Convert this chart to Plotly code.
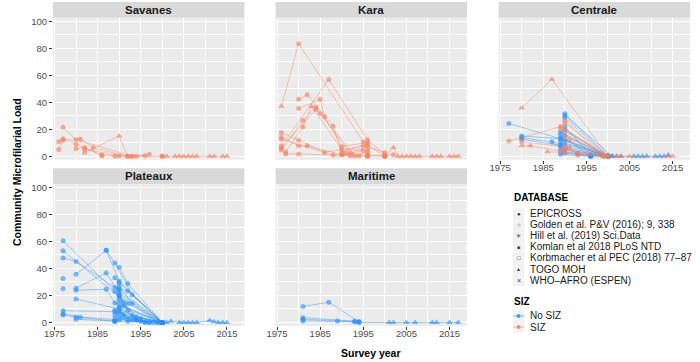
import plotly.graph_objects as go

W, H = 700, 362

# ---------------- data ----------------
REGIONS = ["Savanes", "Kara", "Centrale", "Plateaux", "Maritime"]
YEAR_TICKS = [1975, 1985, 1995, 2005, 2015]
LOAD_TICKS = [0, 20, 40, 60, 80, 100]
DB_LABELS = ["EPICROSS", "Golden et al. P&V (2016); 9, 338", "Hill et al. (2019) Sci.Data",
             "Komlan et al 2018 PLoS NTD", "Korbmacher et al PEC (2018) 77\u201387",
             "TOGO MOH", "WHO\u2013AFRO (ESPEN)"]
DB_CODES = ["E", "G", "H", "K", "B", "T", "W"]
SIZ_LABELS = ["No SIZ", "SIZ"]

# each series: (SIZ flag, years, community microfilarial load, database code per point)
SAVANES = [
    ("S", [1977, 1980, 1993, 2000], [21.5, 12.4, 0, 0], "EEEE"),
    ("S", [1976, 1977, 1980, 1986], [10.8, 13, 9, 1], "EEEE"),
    ("S", [1976, 1977, 1981, 1984, 1992], [5.1, 12, 12.7, 6.4, 0], "EEEEE"),
    ("S", [1980, 1982, 1986, 1989, 1994], [5.6, 6.6, 0.5, 0.3, 0], "EEEEE"),
    ("S", [1982, 1990, 1992, 1997], [2.9, 15, 0, 1.5], "ETEE"),
    ("S", [1982, 1990, 1993, 1996], [5.4, 0.3, 0, 0.5], "EEEE"),
    ("S", [2000, 2001, 2003, 2004, 2005, 2006, 2007, 2008, 2011, 2012, 2014, 2015],
     [0, 0, 0, 0, 0, 0, 0, 0, 0, 0, 0, 0], "ETTTTTTTTTTT"),
]
KARA = [
    ("S", [1976, 1980, 1995, 2000], [37, 83.4, 10.8, 0], "TEEE"),
    ("S", [1976, 1987, 1996, 2000], [7.8, 56.8, 12.2, 1.2], "EEEE"),
    ("S", [1980, 1982, 1988, 1990, 1996], [42.2, 45.6, 22.5, 2.9, 9], "EEEEE"),
    ("S", [1980, 1985, 1986, 1990, 1996], [35.4, 42.2, 29.3, 7.3, 10.2], "EEEEE"),
    ("S", [1976, 1981, 1984, 1992, 1996], [4.7, 26.8, 36.3, 2.3, 7.3], "EEEEE"),
    ("S", [1977, 1981, 1983, 1990, 1996], [3.4, 21.7, 36.9, 5.1, 4.7], "EETEE"),
    ("S", [1976, 1984, 1985, 1993, 1996], [6.1, 34.7, 31.7, 0.5, 2.9], "EEEEE"),
    ("S", [1976, 1980, 1986, 1995, 2000], [17.6, 12, 2.9, 7.8, 2.9], "EEEEE"),
    ("S", [1976, 1980, 1982, 1990, 1995], [14.4, 7.8, 7.8, 1.2, 4.2], "EEEEE"),
    ("S", [1976, 1988, 1996, 2002], [12.6, 1, 0, 1.2], "EEEE"),
    ("S", [1977, 1980, 1992, 1994, 1996], [1.8, 1.8, 0.5, 0.5, 0], "EEEEE"),
    ("S", [1990, 1991, 1996, 2000], [1.2, 2.3, 1, 0], "EEEE"),
    ("S", [2000, 2002, 2003, 2004, 2005, 2006, 2007, 2008, 2011, 2012, 2013, 2015, 2016, 2017],
     [0, 6.6, 0, 0, 0, 0, 0, 0, 0, 0, 0, 0, 0, 0], "ETTTTTTTTTTTTT"),
]
CENTRALE = [
    ("N", [1977, 1990, 2000], [24.4, 12, 0], "EEE"),
    ("N", [1980, 1989, 1999], [15.1, 13, 0], "EEE"),
    ("N", [1980, 1990, 2000], [13.9, 9, 0.5], "EEE"),
    ("N", [1980, 1989, 2000], [12.7, 8, 0], "EEE"),
    ("N", [1987, 1990, 2000], [10.8, 5, 0], "EEE"),
    ("N", [1990, 2000], [31.5, 0], "EE"),
    ("N", [1990, 2001], [30.3, 0], "ET"),
    ("N", [1990, 2000], [28.5, 0], "EE"),
    ("N", [1990, 1996, 2000], [22, 1, 0], "EEE"),
    ("N", [1989, 2000], [18, 0], "EE"),
    ("N", [1989, 1996, 2000], [16, 0, 0], "EEE"),
    ("N", [1989, 2000], [13.5, 0], "EE"),
    ("N", [1989, 2000], [11, 0], "EE"),
    ("N", [1989, 1993, 2000], [8.5, 2, 0], "EEE"),
    ("N", [1989, 2000], [6, 0], "EE"),
    ("N", [1989, 1996], [3.5, 0], "EE"),
    ("N", [1989, 1996], [1.5, 0], "EE"),
    ("N", [1990, 2000], [19, 0], "EE"),
    ("N", [1990, 2000], [15.5, 0], "EE"),
    ("N", [1990, 2000], [2.5, 0], "EE"),
    ("S", [1977, 1989, 2000], [11.3, 22, 0], "EEE"),
    ("S", [1980, 1987, 2000], [35.8, 57, 0], "TTT"),
    ("S", [1980, 1990, 2000], [10.8, 7, 0], "EEE"),
    ("S", [1980, 1982, 1989, 1999], [7.8, 7.8, 4, 0], "TTET"),
    ("S", [1986, 1990, 2000], [3.4, 3, 0], "TEE"),
    ("S", [1989, 2000], [20.5, 0], "EE"),
    ("S", [1990, 1999], [26.5, 0], "ET"),
    ("S", [1990, 2000], [24.9, 0], "EE"),
    ("S", [1990, 2000], [20, 0], "EE"),
    ("S", [1990, 2000], [15, 0], "EE"),
    ("S", [1991, 2000], [12, 0], "EE"),
    ("S", [1991, 1993, 2000], [7, 1, 0], "EEE"),
    ("S", [1990, 2000], [4.5, 0], "EE"),
    ("N", [2000, 2001, 2002, 2003, 2006, 2007, 2008, 2009, 2011, 2012, 2013, 2014],
     [0, 0, 0, 0, 0, 0, 0, 0, 0, 0, 0, 1], "TTTTTTTTTTTT"),
    ("S", [1999, 2000, 2002, 2003, 2005, 2014, 2015], [0, 0, 0, 0, 0, 0, 0], "TTTTTTT"),
]
PLATEAUX = [
    ("N", [1977, 1990, 2000], [60.4, 20, 0], "EEE"),
    ("N", [1977, 1992, 2000], [53.1, 14, 0], "EEE"),
    ("N", [1977, 1980, 1990, 2000], [47.8, 45.2, 24, 0], "EEEE"),
    ("N", [1977], [32.6], "E"),
    ("N", [1977], [24.9], "E"),
    ("N", [1977, 1989, 2000], [8.7, 8, 0], "EEE"),
    ("N", [1977, 1981, 1990, 2000], [6.5, 3.9, 2, 0], "EEEE"),
    ("N", [1977, 1980, 1989], [5.5, 4.1, 1], "EEE"),
    ("N", [1980, 1987, 1990, 2000], [35.7, 53.4, 30.7, 0], "EEEE"),
    ("N", [1980, 1987, 1989, 2000], [23.9, 24.6, 14.5, 0], "EEEE"),
    ("N", [1980, 1987, 1990, 2000], [25.4, 36.7, 22, 0], "EEEE"),
    ("N", [1980, 1990, 1995, 2000], [17.4, 10, 3, 0], "EEEE"),
    ("N", [1980, 1989, 2000], [2.4, 1, 0], "EEE"),
    ("N", [1987, 1989, 1993, 2000], [53.4, 44, 20.5, 0], "EEEE"),
    ("N", [1990, 1992, 2000], [40.8, 28.8, 0], "EEE"),
    ("N", [1989, 1990, 2000], [33.1, 29.5, 0], "EEE"),
    ("N", [1989, 1992, 2000], [25.9, 23.4, 0], "EEE"),
    ("N", [1989, 1990, 1994, 2000], [23, 18, 4, 0], "EEEE"),
    ("N", [1990, 1993, 1999], [27, 14, 0], "EEE"),
    ("N", [1990, 1991, 2000], [25, 12, 0], "EEE"),
    ("N", [1990, 1992, 2000], [20, 9, 0], "EEE"),
    ("N", [1990, 1993, 2000], [16, 5, 0], "EEE"),
    ("N", [1990, 1991, 1996], [13, 6, 0.5], "EEE"),
    ("N", [1989, 1990, 1995], [9, 11, 1], "EEE"),
    ("N", [1989, 1991, 1996], [6, 4, 0], "EEE"),
    ("N", [1989, 1990, 1994, 1997], [3, 8, 2, 0], "EEEE"),
    ("N", [1989, 1992, 1999], [1, 3, 0], "EEE"),
    ("N", [1990, 1993, 1998], [7, 2, 0], "EEE"),
    ("N", [1990, 1992, 1997], [4, 1, 0], "EEE"),
    ("N", [1991, 1994, 2000], [15, 2, 0], "EEE"),
    ("N", [2000, 2001, 2002, 2004, 2005, 2006, 2007, 2008, 2011, 2012, 2013, 2014, 2015],
     [0, 0, 1, 0, 0, 0, 0, 0, 1.5, 0.5, 0, 0, 0], "TTTTTTTTTTTTT"),
]
MARITIME = [
    ("N", [1981, 1987, 1994], [11.8, 15, 0.5], "EEE"),
    ("N", [1981, 1993], [3.6, 1], "EE"),
    ("N", [1981, 1989, 1994], [2.4, 1.2, 0.5], "EEE"),
    ("N", [1981, 1993], [1.2, 0.5], "EE"),
    ("N", [1994, 2001, 2002, 2005, 2007, 2011, 2012, 2015, 2017],
     [0, 0, 0, 0, 0, 0, 0, 0, 0], "ETTTTTTTT"),
]
REGION_DATA = [SAVANES, KARA, CENTRALE, PLATEAUX, MARITIME]

# ---------------- style ----------------
MARK = {"N": "rgba(40,145,245,0.85)", "S": "rgba(243,128,96,0.85)"}
LINE = {"N": "rgba(40,145,245,0.55)", "S": "rgba(243,128,96,0.55)"}
SYM = {"E": "circle", "G": "circle-open", "H": "asterisk-open", "K": "square",
       "B": "square-open", "T": "triangle-up", "W": "x-thin-open"}
SIZE = {"E": 5, "G": 5, "H": 5, "K": 5, "B": 5, "T": 6, "W": 5}
OPEN = set("GHBW")
FONT = "Liberation Sans, Arial, Helvetica, sans-serif"

COLS = [(44.5, 238.5), (270.0, 464.0), (496.0, 690.0)]
ROWS = [(16.0, 159.5), (184.0, 327.5)]
STRIPS = [(0.0, 16.0), (168.0, 184.0)]
PANEL_POS = [(0, 0), (0, 1), (0, 2), (1, 0), (1, 1)]
XRANGE = [1974.65, 2019.05]
YRANGE = [-2.5, 102.5]

fig = go.Figure()
layout = {}
shapes = []
annotations = []

for i, (name, series) in enumerate(zip(REGIONS, REGION_DATA)):
    r, c = PANEL_POS[i]
    sfx = "" if i == 0 else str(i + 1)
    for siz, yrs, vals, dbs in series:
        fig.add_trace(go.Scatter(
            x=yrs, y=vals, mode="lines+markers",
            xaxis="x" + sfx, yaxis="y" + sfx,
            line=dict(color=LINE[siz], width=0.8),
            marker=dict(color=MARK[siz], symbol=[SYM[d] for d in dbs],
                        size=[SIZE[d] for d in dbs],
                        line=dict(color=MARK[siz], width=[1 if d in OPEN else 0 for d in dbs])),
            showlegend=False, hoverinfo="skip", cliponaxis=False))
    x0, x1 = COLS[c]
    y0, y1 = ROWS[r]
    show_x = (i >= 2)
    show_y = (c == 0)
    layout["xaxis" + sfx] = dict(
        domain=[x0 / W, x1 / W], range=XRANGE, anchor="y" + sfx,
        tickmode="array", tickvals=YEAR_TICKS, showticklabels=show_x,
        ticks="outside" if show_x else "", ticklen=3, tickwidth=1, tickcolor="#333333",
        ticklabelstandoff=-4,
        tickfont=dict(family=FONT, size=9.5, color="#4D4D4D"),
        showgrid=True, gridcolor="white", gridwidth=1, zeroline=False, showline=False,
        minor=dict(tickmode="array", tickvals=[1980, 1990, 2000, 2010], showgrid=True,
                   gridcolor="white", gridwidth=0.5, ticks=""),
        fixedrange=True)
    layout["yaxis" + sfx] = dict(
        domain=[1 - y1 / H, 1 - y0 / H], range=YRANGE, anchor="x" + sfx,
        tickmode="array", tickvals=LOAD_TICKS, showticklabels=show_y,
        ticks="outside" if show_y else "", ticklen=3, tickwidth=1, tickcolor="#333333",
        tickfont=dict(family=FONT, size=9.5, color="#4D4D4D"),
        showgrid=True, gridcolor="white", gridwidth=1, zeroline=False, showline=False,
        minor=dict(tickmode="array", tickvals=[10, 30, 50, 70, 90], showgrid=True,
                   gridcolor="white", gridwidth=0.5, ticks=""),
        fixedrange=True)
    s0, s1 = STRIPS[r]
    shapes.append(dict(type="rect", xref="paper", yref="paper", x0=x0 / W, x1=x1 / W,
                       y0=1 - s1 / H, y1=1 - s0 / H, fillcolor="#D9D9D9", line=dict(width=0),
                       layer="below"))
    annotations.append(dict(text="<b>%s</b>" % name, xref="paper", yref="paper",
                            x=(x0 + x1) / 2 / W, y=1 - (s0 + s1) / 2 / H,
                            xanchor="center", yanchor="middle", showarrow=False,
                            font=dict(family=FONT, size=11.5, color="#1A1A1A")))

# axis titles
annotations.append(dict(text="<b>Survey year</b>", xref="paper", yref="paper",
                        x=367 / W, y=1 - 355 / H, xanchor="center", yanchor="middle",
                        showarrow=False, font=dict(family=FONT, size=10.5, color="black")))
annotations.append(dict(text="<b>Community Microfilarial Load</b>", xref="paper", yref="paper",
                        x=8 / W, y=1 - 172 / H, xanchor="center", yanchor="middle",
                        textangle=-90, showarrow=False,
                        font=dict(family=FONT, size=10.5, color="black")))

# legend (drawn manually)
LEG_X = 510.0
KEY_X0, KEY_X1 = 510.5, 522.0
TEXT_X = 526.0
STEP = 11.2
GLYPH = {"E": "\u25CF", "G": "\u25CB", "H": "\u2733", "K": "\u25A0", "B": "\u25A1",
         "T": "\u25B2", "W": "\u00D7"}
GSIZE = {"E": 6, "G": 6, "H": 6, "K": 5, "B": 6, "T": 5, "W": 7}

def ann_text(txt, x, y, size=10, bold=False, color="#1A1A1A", anchor="left"):
    annotations.append(dict(text=("<b>%s</b>" % txt) if bold else txt, xref="paper", yref="paper",
                            x=x / W, y=1 - y / H, xanchor=anchor, yanchor="middle",
                            showarrow=False, font=dict(family=FONT, size=size, color=color)))

ann_text("DATABASE", LEG_X, 198, size=10, bold=True, color="black")
db_y0 = 214.0
shapes.append(dict(type="rect", xref="paper", yref="paper", x0=KEY_X0 / W, x1=KEY_X1 / W,
                   y0=1 - (db_y0 + STEP * 6 + STEP / 2) / H, y1=1 - (db_y0 - STEP / 2) / H,
                   fillcolor="#F2F2F2", line=dict(width=0)))
for k, (lab, code) in enumerate(zip(DB_LABELS, DB_CODES)):
    yy = db_y0 + k * STEP
    ann_text(GLYPH[code], (KEY_X0 + KEY_X1) / 2, yy, size=GSIZE[code], color="#333333",
             anchor="center")
    ann_text(lab, TEXT_X, yy, size=10)

ann_text("SIZ", LEG_X, 303, size=10, bold=True, color="black")
siz_y0 = 317.5
shapes.append(dict(type="rect", xref="paper", yref="paper", x0=KEY_X0 / W, x1=KEY_X1 / W,
                   y0=1 - (siz_y0 + STEP + STEP / 2) / H, y1=1 - (siz_y0 - STEP / 2) / H,
                   fillcolor="#F2F2F2", line=dict(width=0)))
for k, (lab, flag) in enumerate(zip(SIZ_LABELS, ["N", "S"])):
    yy = siz_y0 + k * STEP
    shapes.append(dict(type="line", xref="paper", yref="paper", x0=KEY_X0 / W, x1=KEY_X1 / W,
                       y0=1 - yy / H, y1=1 - yy / H, line=dict(color=LINE[flag], width=1)))
    cx = (KEY_X0 + KEY_X1) / 2
    shapes.append(dict(type="circle", xref="paper", yref="paper",
                       x0=(cx - 2) / W, x1=(cx + 2) / W, y0=1 - (yy + 2) / H, y1=1 - (yy - 2) / H,
                       fillcolor=MARK[flag], line=dict(width=0)))
    ann_text(lab, TEXT_X, yy, size=10)

fig.update_layout(**layout)
fig.update_layout(width=W, height=H, autosize=False, margin=dict(l=0, r=0, t=0, b=0),
                  plot_bgcolor="#EBEBEB", paper_bgcolor="white",
                  shapes=shapes, annotations=annotations, showlegend=False,
                  font=dict(family=FONT))
fig.write_html("out.html")
